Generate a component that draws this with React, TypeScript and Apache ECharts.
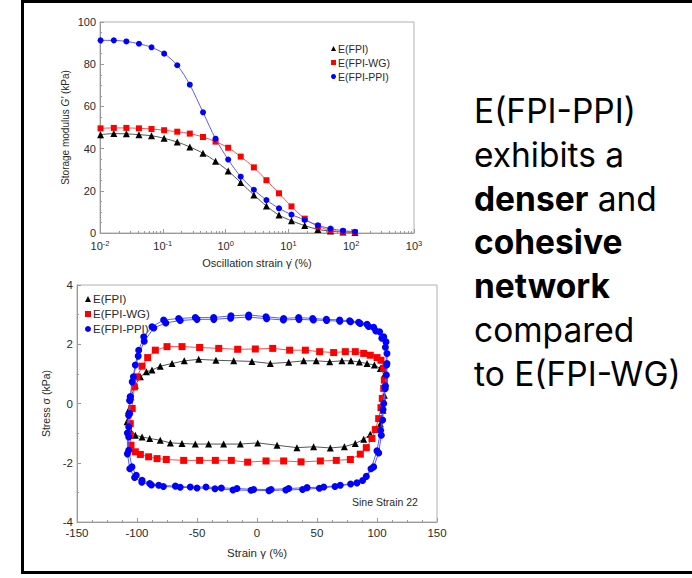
import { useEffect, useRef } from "react";
import * as echarts from "echarts";

// ---------- Top chart: amplitude sweep ----------
const oscillationStrain = [
  0.0102, 0.0166, 0.0263, 0.0417, 0.0661, 0.105, 0.17, 0.269, 0.437, 0.692, 1.1,
  1.74, 2.82, 4.47, 7.08, 11.2, 18.2, 29.5, 46.8, 74.1, 115,
];
const fpiModulus = [
  46.6, 47.1, 47.0, 46.6, 46.1, 44.9, 43.1, 40.8, 37.8, 34.0, 29.4, 23.9, 18.0,
  12.8, 8.5, 5.8, 3.5, 1.7, 0.9, 0.5, 0.2,
];
const fpiWgModulus = [
  49.6, 49.8, 49.8, 49.6, 49.3, 48.7, 48.0, 47.1, 45.5, 43.3, 40.4, 36.2, 31.1,
  25.0, 18.8, 12.6, 6.8, 3.2, 1.3, 0.6, 0.3,
];
const fpiPpiModulus = [
  91.3, 91.3, 90.8, 89.7, 88.0, 85.0, 79.5, 70.3, 57.2, 44.7, 34.8, 26.7, 20.5,
  15.6, 11.7, 8.7, 6.2, 3.6, 2.1, 1.1, 0.6,
];

// ---------- Bottom chart: Lissajous loops (Sine Strain 22) ----------
const fpiLoopStrain = [
  -106.9, -105, -101.4, -97.2, -92.2, -87.5, -80.6, -70.8, -60.6, -48.6, -34.2,
  -19.4, -4.2, 11.1, 26.4, 38.9, 49.4, 60.6, 70.8, 78.3, 85.3, 91.7, 97.8, 102.8,
  106.1, 106.9, 106.1, 105, 102.8, 98.6, 94.4, 88.9, 81.9, 72.8, 61.1, 47.2, 33.3,
  16.7, 0.6, -13.9, -27.8, -40.3, -51.4, -62.5, -72.2, -80.6, -89.4, -95.8, -101.4,
  -105.6, -108.3, -106.9,
];
const fpiLoopStress = [
  -0.23, 0.23, 0.62, 0.9, 1.07, 1.13, 1.26, 1.35, 1.44, 1.49, 1.46, 1.44, 1.42,
  1.35, 1.39, 1.44, 1.44, 1.41, 1.44, 1.44, 1.4, 1.35, 1.3, 1.18, 0.96, 0.68, 0.28,
  -0.23, -0.68, -0.88, -1.04, -1.21, -1.35, -1.46, -1.5, -1.46, -1.49, -1.41,
  -1.33, -1.37, -1.37, -1.37, -1.37, -1.35, -1.33, -1.24, -1.18, -1.13, -1.07,
  -0.9, -0.62, -0.23,
];
const fpiWgLoopStrain = [
  -104.2, -102.2, -100, -95.8, -91.1, -84.7, -75, -62.5, -47.8, -31.9, -16.1, -1.4,
  13.1, 27.2, 40.3, 52.2, 63.9, 73.6, 81.9, 88.9, 94.4, 100, 103.3, 105.6, 106.1,
  105.6, 104.4, 103.3, 101.4, 98.6, 95.8, 91.1, 86.1, 77.8, 66.1, 52.8, 36.7, 22.2,
  7.5, -7.8, -21.4, -34.7, -47.8, -61.1, -75.6, -83.3, -90.3, -97.2, -101.4, -105,
  -105.6, -105.6, -104.2,
];
const fpiWgLoopStress = [
  -0.17, 0.56, 0.9, 1.26, 1.55, 1.8, 1.92, 1.92, 1.89, 1.86, 1.83, 1.84, 1.86, 1.8,
  1.8, 1.75, 1.72, 1.75, 1.75, 1.69, 1.63, 1.55, 1.46, 1.18, 0.79, 0.51, 0.17,
  -0.14, -0.51, -0.88, -1.18, -1.49, -1.71, -1.89, -1.92, -1.94, -1.97, -1.94,
  -1.94, -1.98, -1.92, -1.92, -1.92, -1.92, -1.89, -1.86, -1.8, -1.72, -1.63,
  -1.41, -1.07, -0.68, -0.17,
];
const fpiPpiLoopStrain = [
  -105.6, -104, -101.4, -98.6, -94.4, -87.5, -77.8, -65.3, -51.4, -36.1, -21.7,
  -6.9, 7.5, 22.2, 34.7, 46.4, 57.8, 68.9, 77.2, 84.7, 91.7, 97.2, 102.2, 105.6,
  107.5, 108.3, 108.3, 107.8, 106.9, 105.6, 104.7, 103.6, 101.4, 97.2, 91.1, 83.3,
  69.4, 55.6, 41.7, 26.4, 11.7, -2.8, -16.7, -29.7, -42.5, -55.6, -68, -81.9, -89.4,
  -95.8, -100.6, -104.2, -106.9, -106.9, -106.9, -106.1, -105.6,
];
const fpiPpiLoopStress = [
  0.23, 0.73, 1.3, 1.8, 2.25, 2.59, 2.82, 2.87, 2.9, 2.9, 2.96, 2.99, 2.93, 2.87,
  2.9, 2.87, 2.84, 2.82, 2.79, 2.74, 2.67, 2.57, 2.42, 2.25, 2.08, 1.69, 1.35, 0.96,
  0.51, 0, -0.56, -1.07, -1.67, -2.14, -2.46, -2.68, -2.76, -2.82, -2.84, -2.87,
  -2.9, -2.9, -2.87, -2.85, -2.82, -2.82, -2.79, -2.76, -2.7, -2.59, -2.42, -2.14,
  -1.58, -1.13, -0.79, -0.34, 0.23,
];
const fpiPpiLoop2Strain = [
  -106, -103, -99, -94, -86, -76, -64, -50, -36, -22, -7, 8, 22, 35, 47, 58, 69, 78,
  86, 93, 99, 104, 107, 108, 107, 105, 103, 100, 95, 88, 78, 65, 52, 38, 24, 10, -5,
  -20, -35, -50, -64, -78, -88, -96, -102, -106, -108, -108, -107, -106,
];
const fpiPpiLoop2Stress = [
  0.1, 0.9, 1.6, 2.1, 2.55, 2.72, 2.8, 2.84, 2.84, 2.88, 2.92, 2.86, 2.82, 2.84,
  2.82, 2.8, 2.78, 2.76, 2.7, 2.6, 2.45, 2.2, 1.9, 1.3, 0.6, -0.2, -0.9, -1.6, -2.2,
  -2.6, -2.72, -2.8, -2.86, -2.9, -2.92, -2.94, -2.93, -2.92, -2.88, -2.85, -2.83,
  -2.8, -2.75, -2.66, -2.5, -2.2, -1.7, -1.0, -0.4, 0.1,
];

const seriesNames = ["E(FPI)", "E(FPI-WG)", "E(FPI-PPI)"];
const markerColors = ["#000000", "#ff0000", "#0000ff"];
const lineColors = ["#555555", "#ff5050", "#5a5aff"];
const markerShapes = ["triangle", "rect", "circle"];

const textLines = [
  "{n|E(FPI-PPI)}",
  "{n|exhibits a}",
  "{b|denser}{n| and}",
  "{b|cohesive}",
  "{b|network}",
  "{n|compared}",
  "{n|to E(FPI-WG)}",
];

const zip = (a: number[], b: number[]) => a.map((v, i) => [v, b[i]]);

export default function App() {
  const ref = useRef<HTMLDivElement>(null);
  useEffect(() => {
    const chart = echarts.init(ref.current!, null, { renderer: "svg" });
    const font = "'Liberation Sans', Arial, sans-serif";
    const bigFont = "Inter, 'Noto Sans', sans-serif";
    const axisGrey = "#9a9a9a";
    const labelColor = "#2a2a2a";

    const topData = [fpiModulus, fpiWgModulus, fpiPpiModulus];
    const topSeries = seriesNames.map((name, i) => ({
      name,
      type: "line",
      xAxisIndex: 0,
      yAxisIndex: 0,
      data: zip(oscillationStrain, topData[i]),
      symbol: markerShapes[i],
      symbolSize: i === 0 ? 7 : 6,
      smooth: 0.3,
      itemStyle: { color: markerColors[i] },
      lineStyle: { color: lineColors[i], width: 1 },
      z: 3 + i,
    }));

    const loops = [
      [zip(fpiLoopStrain, fpiLoopStress)],
      [zip(fpiWgLoopStrain, fpiWgLoopStress)],
      [zip(fpiPpiLoopStrain, fpiPpiLoopStress), zip(fpiPpiLoop2Strain, fpiPpiLoop2Stress)],
    ];
    const bottomSeries: any[] = [];
    loops.forEach((cycles, i) => {
      cycles.forEach((d) => {
        bottomSeries.push({
          name: seriesNames[i],
          type: "line",
          xAxisIndex: 1,
          yAxisIndex: 1,
          data: d,
          symbol: markerShapes[i],
          symbolSize: i === 0 ? 7 : 7,
          itemStyle: { color: markerColors[i] },
          lineStyle: { color: lineColors[i], width: 1 },
          z: 3 + i,
        });
      });
    });

    const legendData = seriesNames.map((name, i) => ({ name, icon: markerShapes[i] }));

    const option: any = {
      animation: false,
      textStyle: { fontFamily: font },
      grid: [
        { left: 100, top: 22, width: 314, height: 211, show: true, borderColor: "#b0b0b0", borderWidth: 1, backgroundColor: "transparent" },
        { left: 77, top: 285, width: 360, height: 237, show: true, borderColor: "#b0b0b0", borderWidth: 1, backgroundColor: "transparent" },
      ],
      legend: [
        {
          data: legendData,
          orient: "vertical",
          left: 326,
          top: 38,
          itemWidth: 5,
          itemHeight: 5,
          itemGap: 3,
          textStyle: { fontSize: 10.5, color: labelColor, fontFamily: font, padding: [0, 0, 0, -3] },
          selectedMode: false,
        },
        {
          data: legendData,
          orient: "vertical",
          left: 80,
          top: 288,
          itemWidth: 6,
          itemHeight: 6,
          itemGap: 3,
          textStyle: { fontSize: 11.5, color: labelColor, fontFamily: font, padding: [0, 0, 0, -3] },
          selectedMode: false,
        },
      ],
      xAxis: [
        {
          type: "log",
          logBase: 10,
          gridIndex: 0,
          min: 0.01,
          max: 1000,
          axisLine: { show: true, onZero: false, lineStyle: { color: axisGrey } },
          axisTick: { show: true, inside: true, length: 4, lineStyle: { color: axisGrey } },
          minorTick: { show: true, splitNumber: 9, length: 2, lineStyle: { color: axisGrey } },
          splitLine: { show: false },
          axisLabel: {
            color: labelColor,
            fontSize: 11,
            margin: 6,
            formatter: (v: number) => `{b|10}{s|${Math.round(Math.log10(v))}}`,
            rich: {
              b: { fontSize: 11, color: labelColor, lineHeight: 14, fontFamily: font },
              s: { fontSize: 7.5, color: labelColor, verticalAlign: "top", lineHeight: 14, fontFamily: font },
            },
          },
          name: "Oscillation strain γ̇ (%)",
          nameLocation: "middle",
          nameGap: 24,
          nameTextStyle: { fontSize: 11, color: labelColor, fontFamily: font },
        },
        {
          type: "value",
          gridIndex: 1,
          min: -150,
          max: 150,
          interval: 50,
          axisLine: { show: true, onZero: false, lineStyle: { color: axisGrey } },
          axisTick: { show: true, inside: true, length: 4, lineStyle: { color: axisGrey } },
          minorTick: { show: true, splitNumber: 4, length: 2, lineStyle: { color: axisGrey } },
          splitLine: { show: false },
          axisLabel: { color: labelColor, fontSize: 11.5, margin: 5 },
          name: "Strain γ (%)",
          nameLocation: "middle",
          nameGap: 25,
          nameTextStyle: { fontSize: 11.5, color: labelColor, fontFamily: font },
        },
      ],
      yAxis: [
        {
          type: "value",
          gridIndex: 0,
          min: 0,
          max: 100,
          interval: 20,
          axisLine: { show: true, onZero: false, lineStyle: { color: axisGrey } },
          axisTick: { show: true, inside: true, length: 4, lineStyle: { color: axisGrey } },
          minorTick: { show: true, splitNumber: 4, length: 2, lineStyle: { color: axisGrey } },
          splitLine: { show: false },
          axisLabel: { color: labelColor, fontSize: 11, margin: 4 },
          name: "Storage modulus {i|G′} (kPa)",
          nameLocation: "middle",
          nameRotate: 90,
          nameGap: 30,
          nameTextStyle: {
            fontSize: 10,
            color: labelColor,
            fontFamily: font,
            rich: { i: { fontSize: 10, fontStyle: "italic", color: labelColor, fontFamily: font } },
          },
        },
        {
          type: "value",
          gridIndex: 1,
          min: -4,
          max: 4,
          interval: 2,
          axisLine: { show: true, onZero: false, lineStyle: { color: axisGrey } },
          axisTick: { show: true, inside: true, length: 4, lineStyle: { color: axisGrey } },
          minorTick: { show: true, splitNumber: 2, length: 2, lineStyle: { color: axisGrey } },
          splitLine: { show: false },
          axisLabel: { color: labelColor, fontSize: 11.5, margin: 4 },
          name: "Stress σ (kPa)",
          nameLocation: "middle",
          nameRotate: 90,
          nameGap: 23,
          nameTextStyle: { fontSize: 10.5, color: labelColor, fontFamily: font },
        },
      ],
      series: [...topSeries, ...bottomSeries],
      graphic: [
        {
          type: "rect",
          shape: { x: 22.5, y: 1.5, width: 700, height: 571 },
          style: { fill: "none", stroke: "#000", lineWidth: 3 },
          silent: true,
          z: 100,
        },
        {
          type: "text",
          x: 352,
          y: 502,
          style: { text: "Sine Strain 22", fontSize: 10.5, fill: labelColor, fontFamily: font, verticalAlign: "middle" },
        },
        ...textLines.map((t, i) => ({
          type: "text",
          x: 474,
          y: 111 + i * 43.8,
          style: {
            text: t,
            verticalAlign: "middle",
            rich: {
              n: { fontSize: 33.5, fontFamily: bigFont, fontWeight: "normal", fill: "#000" },
              b: { fontSize: 33.5, fontFamily: bigFont, fontWeight: "bold", fill: "#000" },
            },
          },
        })),
      ],
    };
    chart.setOption(option);
    return () => chart.dispose();
  }, []);
  return (
    <div
      ref={ref}
      style={{ position: "fixed", left: 0, top: 0, width: 692, height: 578, background: "#fff" }}
    />
  );
}
